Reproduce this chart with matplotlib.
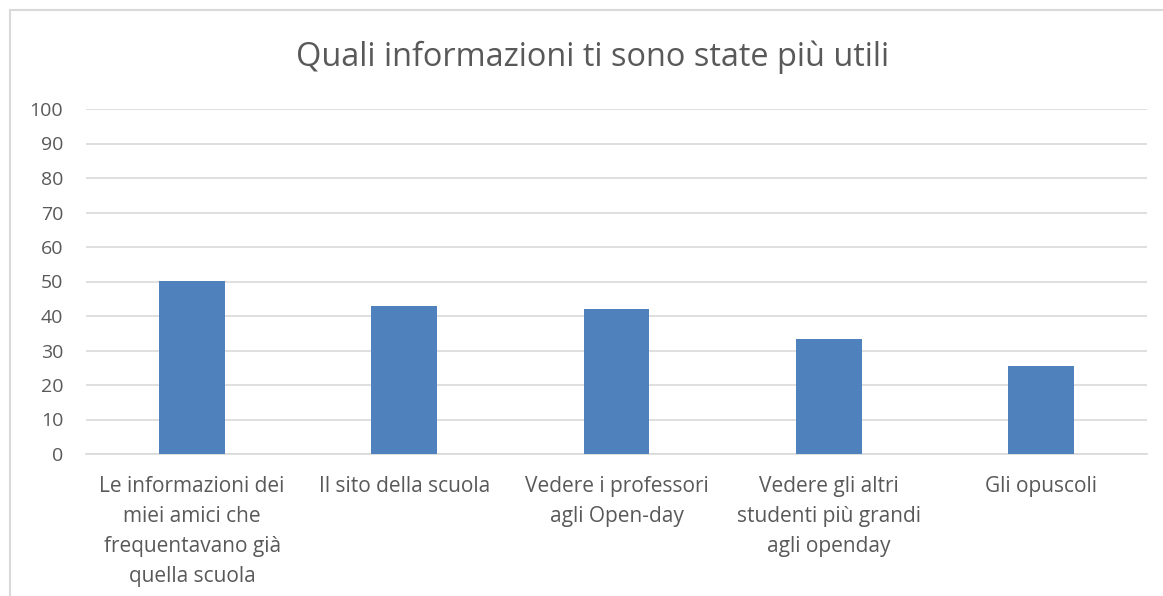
import matplotlib
matplotlib.use("Agg")
import matplotlib.pyplot as plt
from matplotlib.patches import Rectangle

categories = [
    "Le informazioni dei\nmiei amici che\nfrequentavano già\nquella scuola",
    "Il sito della scuola",
    "Vedere i professori\nagli Open-day",
    "Vedere gli altri\nstudenti più grandi\nagli openday",
    "Gli opuscoli",
]
values = [50.2, 42.9, 42.0, 33.2, 25.6]
yticks = [0, 10, 20, 30, 40, 50, 60, 70, 80, 90, 100]
title = "Quali informazioni ti sono state più utili"

plt.rcParams['font.family'] = ['Open Sans', 'DejaVu Sans']
W, H = 1163, 596
fig = plt.figure(figsize=(W / 100, H / 100), dpi=100)
fig.patches.append(Rectangle((10 / W, -0.1), 1.2, 1 - 10 / H + 0.1,
                             transform=fig.transFigure, fill=False,
                             edgecolor="#d9d9d9", linewidth=1.5))

ax = fig.add_axes([86 / W, 1 - 454 / H, (1147 - 86) / W, (454 - 109) / H])
x = list(range(len(categories)))
ax.bar(x, values, width=0.31, color="#4f81bd", zorder=3)
ax.set_xlim(-0.5, len(categories) - 0.5)
ax.set_ylim(0, 100)
ax.set_yticks(yticks)
ax.set_yticklabels([str(v) for v in yticks], fontsize=14, color="#595959")
ax.set_xticks(x)
ax.set_xticklabels(categories, fontsize=15, color="#595959", linespacing=1.55,
                   va="top")
ax.tick_params(axis="both", length=0)
ax.tick_params(axis="y", pad=16.5)
ax.tick_params(axis="x", pad=16)
ax.yaxis.grid(True, color="#d9d9d9", linewidth=1.2, zorder=0)
for s in ["top", "right", "left"]:
    ax.spines[s].set_visible(False)
ax.spines["bottom"].set_color("#d9d9d9")
ax.spines["bottom"].set_linewidth(1.2)

fig.text(593 / W, 1 - 57 / H, title, ha="center", va="center",
         fontsize=23.4, color="#595959")

fig.savefig("out.png", dpi=100, facecolor="white")
